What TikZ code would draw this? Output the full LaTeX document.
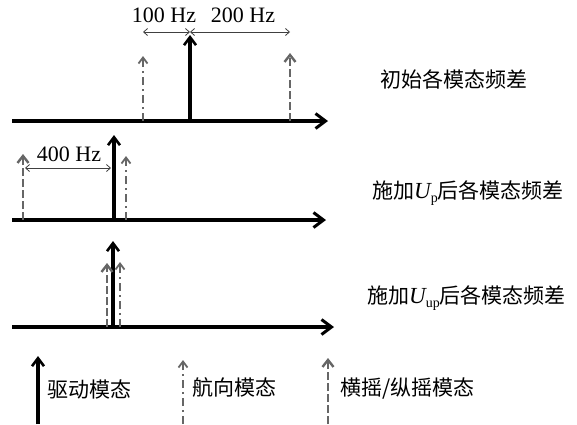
\documentclass[tikz,border=0pt]{standalone}
\usepackage{fontspec}
\setmainfont{Liberation Serif}
\newfontfamily\cjk{Noto Sans CJK SC}
\usetikzlibrary{arrows.meta}
\begin{document}
\begin{tikzpicture}[x=1pt,y=-1pt,
  axisline/.style={line width=3.4pt,-{Straight Barb[length=10pt,width=15pt,line width=3pt]}},
  drivearrow/.style={line width=3.2pt,-{Straight Barb[length=8pt,width=12pt,line width=2.6pt]}},
  yawarrow/.style={line width=2.2pt,draw=black!60,dash pattern=on 8pt off 4pt on 2pt off 4pt,-{Straight Barb[length=6pt,width=9pt,line width=1.8pt]}},
  rollarrow/.style={line width=2.8pt,draw=black!60,dash pattern=on 8pt off 3pt,-{Straight Barb[length=7pt,width=11pt,line width=2.4pt]}},
  dimline/.style={line width=0.8pt,draw=black!75,{Straight Barb[length=4pt,width=7pt]}-{Straight Barb[length=4pt,width=7pt]}},
  lbl/.style={font=\fontsize{21}{24}\selectfont\cjk,inner sep=0pt},
  hz/.style={font=\fontsize{22}{25}\selectfont,inner sep=0pt}]
\useasboundingbox (0,0) rectangle (577,424);
% ---- row 1 ----
\coordinate (a1s) at (12,121); \coordinate (a1e) at (328,121);
\draw[axisline] (a1s) -- (a1e);
\coordinate (d1b) at (190,121); \coordinate (d1t) at (190,35);
\draw[drivearrow] (d1b) -- (d1t);
\coordinate (y1b) at (143,121); \coordinate (y1t) at (143,56);
\draw[yawarrow] (y1b) -- (y1t);
\coordinate (r1b) at (290,121); \coordinate (r1t) at (290,53);
\draw[rollarrow] (r1b) -- (r1t);
\coordinate (m1a) at (143,32); \coordinate (m1b) at (190,32); \coordinate (m1c) at (290,32);
\draw[dimline] (m1a) -- (m1b);
\draw[dimline] (m1b) -- (m1c);
\node[hz] (t100) at (164,15) {100 Hz};
\node[hz] (t200) at (243,15) {200 Hz};
\node[lbl,anchor=west] (l1) at (380,79) {初始各模态频差};
% ---- row 2 ----
\coordinate (a2s) at (12,220); \coordinate (a2e) at (326,220);
\draw[axisline] (a2s) -- (a2e);
\coordinate (d2b) at (114,220); \coordinate (d2t) at (114,135);
\draw[drivearrow] (d2b) -- (d2t);
\coordinate (y2b) at (126,220); \coordinate (y2t) at (126,156);
\draw[yawarrow] (y2b) -- (y2t);
\coordinate (r2b) at (23,220); \coordinate (r2t) at (23,154);
\draw[rollarrow] (r2b) -- (r2t);
\coordinate (m2a) at (25,168); \coordinate (m2b) at (111,168);
\draw[dimline] (m2a) -- (m2b);
\node[hz] (t400) at (69,154) {400 Hz};
\node[lbl,anchor=west] (l2) at (372,193) {施加{\rmfamily\itshape\fontsize{23}{24}\selectfont U}\raisebox{-0.2em}{\rmfamily\fontsize{14}{14}\selectfont p}后各模态频差};
% ---- row 3 ----
\coordinate (a3s) at (12,327); \coordinate (a3e) at (334,327);
\draw[axisline] (a3s) -- (a3e);
\coordinate (d3b) at (113,327); \coordinate (d3t) at (113,241);
\draw[drivearrow] (d3b) -- (d3t);
\coordinate (r3b) at (107,327); \coordinate (r3t) at (107,263);
\draw[rollarrow] (r3b) -- (r3t);
\coordinate (y3b) at (120,327); \coordinate (y3t) at (120,262);
\draw[yawarrow] (y3b) -- (y3t);
\node[lbl,anchor=west] (l3) at (367,298) {施加{\rmfamily\itshape\fontsize{23}{24}\selectfont U}\raisebox{-0.2em}{\rmfamily\fontsize{14}{14}\selectfont up}后各模态频差};
% ---- legend ----
\coordinate (g1b) at (38,424); \coordinate (g1t) at (38,356);
\draw[drivearrow] (g1b) -- (g1t);
\node[lbl,anchor=west] (k1) at (47,389) {驱动模态};
\coordinate (g2b) at (183,424); \coordinate (g2t) at (183,360);
\draw[yawarrow] (g2b) -- (g2t);
\node[lbl,anchor=west] (k2) at (192,387) {航向模态};
\coordinate (g3b) at (328,424); \coordinate (g3t) at (328,358);
\draw[rollarrow] (g3b) -- (g3t);
\node[lbl,anchor=west] (k3) at (340,389) {横摇/纵摇模态};
\end{tikzpicture}
\end{document}
